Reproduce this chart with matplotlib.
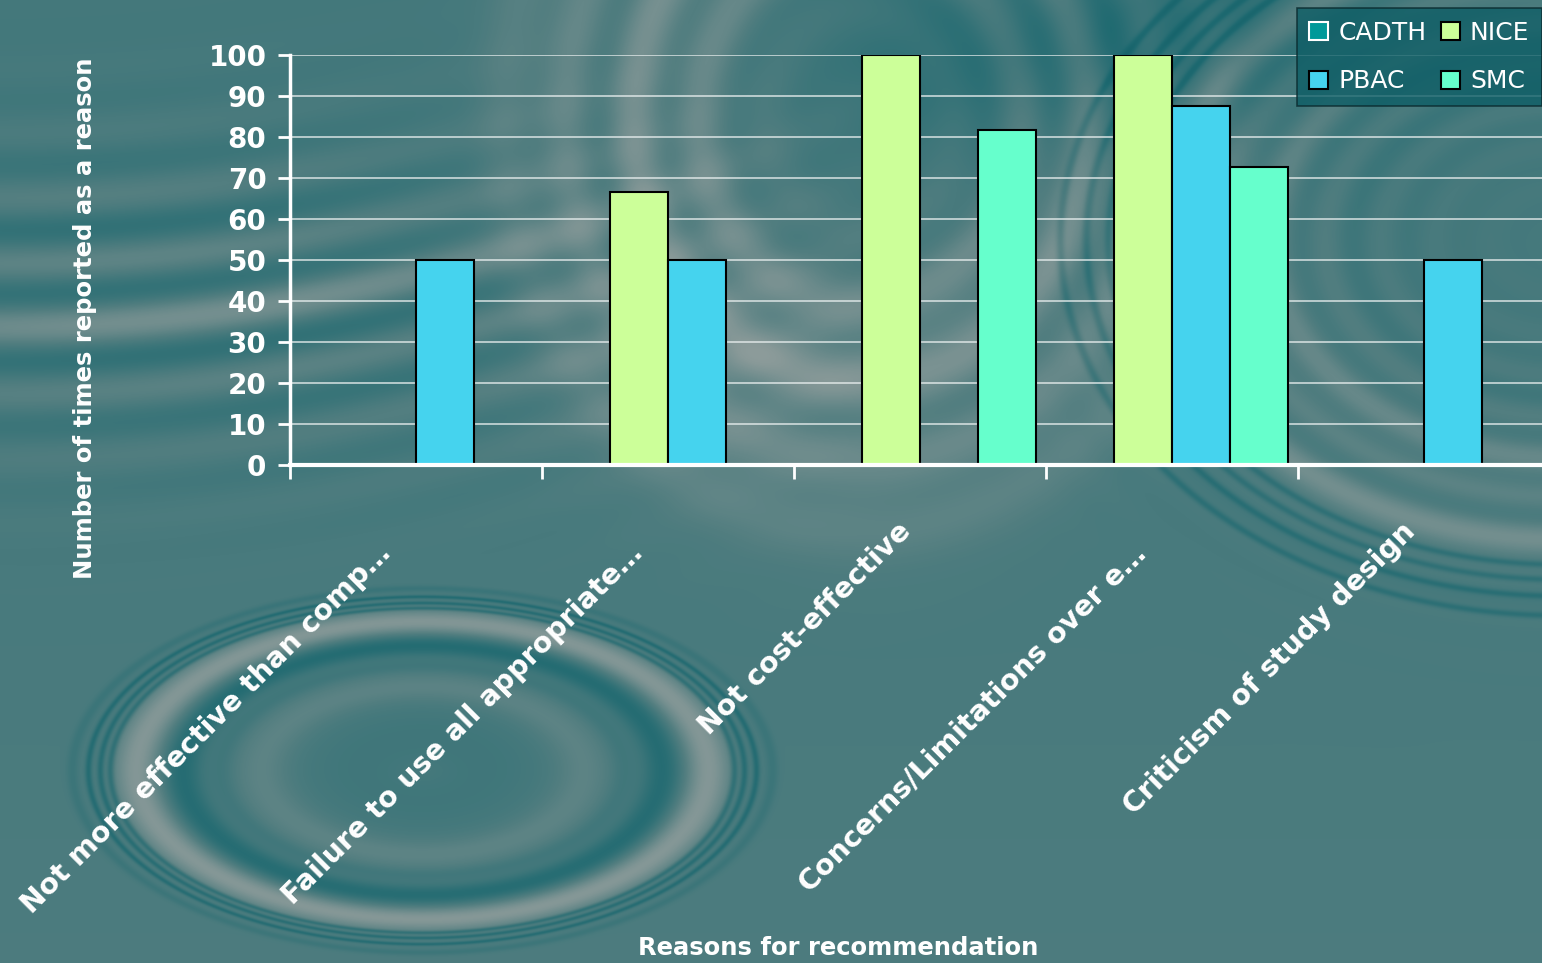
import numpy as np
import matplotlib
matplotlib.use("Agg")
import matplotlib.pyplot as plt
from matplotlib.colors import LinearSegmentedColormap
from matplotlib.transforms import blended_transform_factory

# ---- data -------------------------------------------------------------
categories = [
    "Not more effective than comp…",
    "Failure to use all appropriate…",
    "Not cost-effective",
    "Concerns/Limitations over e…",
    "Criticism of study design",
]
series_names = ["CADTH", "NICE", "PBAC", "SMC"]
cadth = [0, 0, 0, 0, 0]
nice = [0, 66.7, 100, 100, 0]
pbac = [50, 50, 0, 87.5, 50]
smc = [0, 0, 81.8, 72.7, 0]
y_ticks = [0, 10, 20, 30, 40, 50, 60, 70, 80, 90, 100]

series_values = [cadth, nice, pbac, smc]
series_colors = ["#009999", "#CCFF99", "#45D3EE", "#66FFCC"]
legend_edges = ["white", "black", "black", "black"]

W, H = 1542, 963
fig = plt.figure(figsize=(W / 100, H / 100), dpi=100)

# ---- water-ripple backdrop ---------------------------------------------
yy, xx = np.mgrid[0:H, 0:W].astype(float)
v = np.full((H, W), 0.43)
v += 0.04 * (yy / H)


def radius(cx, cy, sx, sy):
    return np.sqrt(((xx - cx) / sx) ** 2 + ((yy - cy) / sy) ** 2)


def bump(r, rc, w):
    return np.exp(-((r - rc) / w) ** 2)


# concentric rings, lower left
r1 = radius(422, 770, 1.0, 0.52)
for rc in (312, 322, 334):
    v -= 0.18 * bump(r1, rc, 3.5)
v -= 0.07 * bump(r1, 350, 6)
v += 0.26 * bump(r1, 286, 22)
v -= 0.18 * bump(r1, 240, 20)
v += 0.09 * bump(r1, 160, 28)
v -= 0.05 * bump(r1, 200, 12)
v -= 0.05 * bump(r1, 60, 70)

# long, gently curving bands, upper left
u = yy + 0.0003 * xx ** 2
band_env = bump(yy, 300, 150) * np.exp(-((xx - 150) / 500) ** 2)
v += 0.12 * band_env * np.sin(2 * np.pi * (u - 180) / 66)
v += 0.10 * bump(u, 320, 25) * np.exp(-((xx - 250) / 450) ** 2)

# diffuse swirl, top centre
r2 = radius(860, 120, 1.0, 1.15)
v += 0.16 * bump(r2, 210, 90)
v += 0.08 * bump(r2, 220, 110) * np.sin(2 * np.pi * r2 / 70)
v += 0.08 * bump(r2, 340, 50)
v += 0.08 * np.exp(-(((xx - 700) / 160) ** 2 + ((yy - 360) / 110) ** 2))

# dark water, upper right
v -= 0.22 * np.exp(-(((xx - 1100) / 230) ** 2 + ((yy - 40) / 110) ** 2))

# arcs, right side
r4 = radius(1560, 240, 1.0, 0.75)
for rc in (432, 452, 474, 500):
    v -= 0.14 * bump(r4, rc, 4.5)
v += 0.16 * bump(r4, 400, 28)
v += 0.10 * bump(r4, 300, 45)
v += 0.05 * bump(r4, 300, 160) * np.sin(2 * np.pi * r4 / 55)

v = np.clip(v, 0, 1)
water = LinearSegmentedColormap.from_list(
    "water", ["#0a5a63", "#1f6a71", "#527e80", "#8a9a99", "#a9b0ae"]
)
bg = fig.add_axes([0, 0, 1, 1], zorder=0)
bg.imshow(v, cmap=water, vmin=0, vmax=1, aspect="auto", interpolation="bilinear")
bg.set_axis_off()

# ---- bar chart ---------------------------------------------------------
ax = fig.add_axes([290 / W, (H - 465) / H, 1260 / W, 410 / H], zorder=1)
ax.set_facecolor("none")

x = np.arange(len(categories))
bar_w = 0.23
offsets = [-1.5, -0.5, 0.5, 1.5]
handles = []
for name, vals, col, ledge, off in zip(series_names, series_values, series_colors,
                                        legend_edges, offsets):
    vals = np.asarray(vals, dtype=float)
    keep = vals > 0
    ax.bar(x[keep] + off * bar_w, vals[keep], width=bar_w, color=col,
           edgecolor="black", linewidth=1.5, zorder=3)
    handles.append(plt.Rectangle((0, 0), 1, 1, facecolor=col, edgecolor=ledge,
                                 linewidth=1.5, label=name))

ax.set_xlim(-0.5, len(categories) - 0.5)
ax.set_ylim(0, 100)
ax.set_yticks(y_ticks)
ax.set_yticklabels([str(t) for t in y_ticks], fontsize=20, fontweight="bold",
                   color="white")
ax.grid(axis="y", color="#e8eeee", linewidth=1.1, alpha=0.9, zorder=1)
ax.set_axisbelow(True)

ax.set_xticks(np.arange(-0.5, len(categories) - 0.5, 1.0))
ax.set_xticklabels([])
ax.tick_params(axis="x", direction="out", length=10, width=2, colors="white")
ax.tick_params(axis="y", direction="out", length=9, width=2, colors="white", pad=8)

for s in ["top", "right"]:
    ax.spines[s].set_visible(False)
ax.spines["left"].set_color("white")
ax.spines["left"].set_linewidth(2.5)
ax.spines["bottom"].set_color("white")
ax.spines["bottom"].set_linewidth(3)
ax.spines["bottom"].set_zorder(4)

# rotated category labels; truncated ones sit a little further back
trans = blended_transform_factory(ax.transData, ax.transAxes)
for i, lab in enumerate(categories):
    shift = (-30, -84) if lab.endswith("…") else (-13, -62)
    ax.annotate(lab, xy=(i, 0), xycoords=trans, xytext=shift,
                textcoords="offset pixels", rotation=45,
                rotation_mode="anchor", ha="right", va="center",
                fontsize=20.5, fontweight="bold", color="white",
                annotation_clip=False)

fig.text(85 / W, 1 - 318 / H, "Number of times reported as a reason",
         rotation=90, ha="center", va="center", fontsize=17.5,
         fontweight="bold", color="white")
fig.text(838 / W, 1 - 948 / H, "Reasons for recommendation",
         ha="center", va="center", fontsize=17.5, fontweight="bold", color="white")

order = [0, 2, 1, 3]
leg = fig.legend([handles[k] for k in order], [series_names[k] for k in order],
                 ncol=2, loc="upper right", bbox_to_anchor=(1.0, 1 - 8 / H),
                 frameon=True, fancybox=False, fontsize=18, labelcolor="white",
                 handlelength=0.75, handleheight=0.75, handletextpad=0.4,
                 columnspacing=0.6, labelspacing=1.0, borderpad=0.5,
                 borderaxespad=0)
leg.get_frame().set_facecolor("#0e5e66")
leg.get_frame().set_edgecolor("#0a2a2e")
leg.get_frame().set_linewidth(1.2)
leg.set_zorder(5)

fig.savefig("out.png", dpi=100)
